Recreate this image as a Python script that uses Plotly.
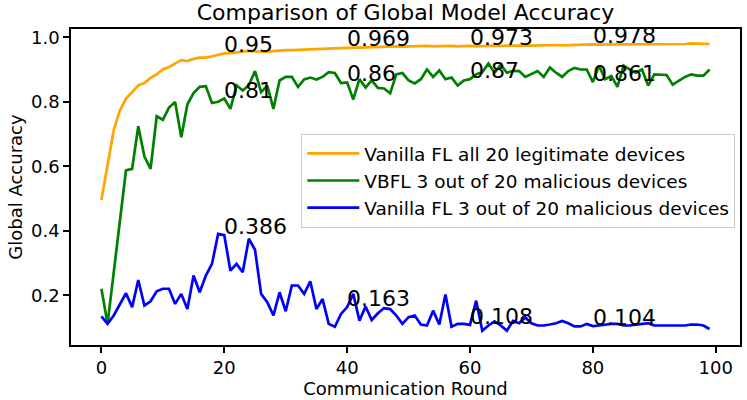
import plotly.graph_objects as go

# accuracy per communication round
rounds = list(range(100))

vanilla_legit = [
    0.495, 0.597, 0.711, 0.773, 0.81, 0.83, 0.851, 0.858, 0.874, 0.885,
    0.9, 0.908, 0.918, 0.929, 0.926, 0.933, 0.937, 0.937, 0.941, 0.945,
    0.95, 0.951, 0.953, 0.956, 0.958, 0.956, 0.955, 0.955, 0.957, 0.959,
    0.96, 0.96, 0.961, 0.962, 0.962, 0.963, 0.963, 0.964, 0.965, 0.967,
    0.969, 0.968, 0.968, 0.969, 0.969, 0.97, 0.97, 0.971, 0.972, 0.971,
    0.972, 0.973, 0.974, 0.973, 0.972, 0.973, 0.972, 0.973, 0.972, 0.973,
    0.973, 0.972, 0.973, 0.974, 0.974, 0.973, 0.974, 0.974, 0.975, 0.975,
    0.974, 0.975, 0.975, 0.976, 0.976, 0.975, 0.976, 0.976, 0.977, 0.977,
    0.978, 0.977, 0.978, 0.977, 0.978, 0.978, 0.978, 0.979, 0.978, 0.979,
    0.979, 0.978, 0.979, 0.979, 0.98, 0.979, 0.981, 0.98, 0.979, 0.979,
]

vbfl_malicious = [
    0.22, 0.111, 0.27, 0.43, 0.587, 0.592, 0.724, 0.63, 0.592, 0.755,
    0.744, 0.782, 0.799, 0.69, 0.792, 0.827, 0.846, 0.848, 0.796, 0.8,
    0.81, 0.778, 0.851, 0.835, 0.851, 0.895, 0.83, 0.85, 0.778, 0.866,
    0.877, 0.877, 0.846, 0.869, 0.875, 0.869, 0.877, 0.892, 0.889, 0.858,
    0.86, 0.807, 0.87, 0.844, 0.866, 0.843, 0.841, 0.826, 0.885, 0.889,
    0.866, 0.857, 0.87, 0.9, 0.877, 0.897, 0.87, 0.875, 0.85, 0.866,
    0.87, 0.885, 0.892, 0.918, 0.89, 0.915, 0.89, 0.896, 0.895, 0.877,
    0.887, 0.895, 0.877, 0.906, 0.89, 0.877, 0.895, 0.905, 0.9, 0.9,
    0.861, 0.912, 0.87, 0.88, 0.846, 0.912, 0.9, 0.89, 0.9, 0.85,
    0.885, 0.883, 0.883, 0.853, 0.864, 0.877, 0.885, 0.881, 0.881, 0.9,
]

vanilla_malicious = [
    0.134, 0.111, 0.137, 0.173, 0.206, 0.163, 0.247, 0.168, 0.181, 0.212,
    0.22, 0.22, 0.173, 0.204, 0.157, 0.261, 0.209, 0.261, 0.297, 0.39,
    0.386, 0.276, 0.297, 0.271, 0.375, 0.341, 0.204, 0.178, 0.137, 0.209,
    0.15, 0.23, 0.23, 0.204, 0.243, 0.157, 0.188, 0.111, 0.102, 0.142,
    0.163, 0.204, 0.121, 0.165, 0.123, 0.144, 0.16, 0.157, 0.137, 0.111,
    0.132, 0.137, 0.109, 0.106, 0.152, 0.109, 0.202, 0.102, 0.111, 0.111,
    0.108, 0.183, 0.09, 0.106, 0.119, 0.106, 0.09, 0.12, 0.113, 0.131,
    0.113, 0.106, 0.106, 0.109, 0.113, 0.12, 0.113, 0.103, 0.103, 0.111,
    0.104, 0.106, 0.109, 0.111, 0.111, 0.106, 0.106, 0.108, 0.111, 0.113,
    0.106, 0.106, 0.106, 0.106, 0.106, 0.106, 0.109, 0.109, 0.106, 0.095,
]

series_names = [
    "Vanilla FL all 20 legitimate devices",
    "VBFL 3 out of 20 malicious devices",
    "Vanilla FL 3 out of 20 malicious devices",
]
series_colors = ["#FFA500", "#008000", "#0000FF"]
label_rounds = [20, 40, 60, 80]

font = "DejaVu Sans"
fig = go.Figure()

for name, vals, color in zip(series_names,
                             [vanilla_legit, vbfl_malicious, vanilla_malicious],
                             series_colors):
    fig.add_trace(go.Scatter(x=rounds, y=vals, mode="lines", name=name,
                             line=dict(color=color, width=2.7)))

# value labels, left edge at the round, baseline on the value
annotations = []
for vals in [vanilla_legit, vbfl_malicious, vanilla_malicious]:
    for r in label_rounds:
        v = vals[r]
        annotations.append(dict(
            x=r, y=v, text=f"{v:g}", showarrow=False,
            xanchor="left", yanchor="bottom", xshift=-2, yshift=-6,
            font=dict(family=font, size=22, color="black")
        ))

fig.update_layout(
    width=747, height=400,
    margin=dict(l=71, r=5, t=29, b=55),
    paper_bgcolor="white", plot_bgcolor="white",
    font=dict(family=font, size=18, color="black"),
    title=dict(text="Comparison of Global Model Accuracy",
               x=0.5, xref="paper", y=1 - 12 / 400, yref="container",
               yanchor="middle", xanchor="center",
               font=dict(family=font, size=22, color="black")),
    legend=dict(x=0.993, y=0.668, xanchor="right", yanchor="top",
                bgcolor="rgba(255,255,255,0.8)", bordercolor="#cccccc",
                borderwidth=1, itemwidth=52,
                font=dict(family=font, size=18.5)),
    annotations=annotations,
)

fig.update_xaxes(
    range=[-4.95, 103.95], tickvals=[0, 20, 40, 60, 80, 100],
    showgrid=False, zeroline=False,
    showline=True, linecolor="black", linewidth=1.5, mirror=True,
    ticks="outside", ticklen=6, tickwidth=1.5, tickcolor="black",
    tickfont=dict(family=font, size=18),
    title=dict(text="Communication Round", standoff=2,
               font=dict(family=font, size=18)),
)
fig.update_yaxes(
    range=[0.0455, 1.0256], tickvals=[0.2, 0.4, 0.6, 0.8, 1.0],
    tickformat=".1f",
    showgrid=False, zeroline=False,
    showline=True, linecolor="black", linewidth=1.5, mirror=True,
    ticks="outside", ticklen=6, tickwidth=1.5, tickcolor="black",
    tickfont=dict(family=font, size=18),
    title=dict(text="Global Accuracy", standoff=4,
               font=dict(family=font, size=18)),
)

fig.write_html("out.html", config={"displayModeBar": False},
               post_script="document.body.style.margin='0';")
